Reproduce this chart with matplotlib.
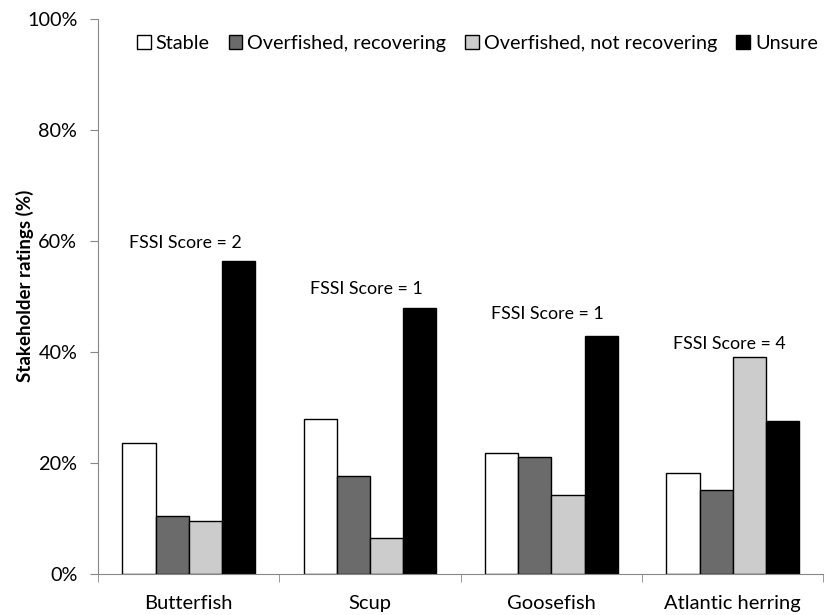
import numpy as np
import matplotlib.pyplot as plt

plt.rcParams['font.family'] = ['Lato', 'DejaVu Sans']

# data
species = ["Butterfish", "Scup", "Goosefish", "Atlantic herring"]
stable = [23.6, 27.9, 21.7, 18.2]
recovering = [10.5, 17.7, 21.1, 15.1]
not_recovering = [9.5, 6.5, 14.2, 39.1]
unsure = [56.4, 47.9, 42.9, 27.6]
fssi_labels = ["FSSI Score = 2", "FSSI Score = 1", "FSSI Score = 1", "FSSI Score = 4"]
fssi_y = [59.6, 51.4, 46.8, 41.4]

series = [
    ("Stable", stable, "white"),
    ("Overfished, recovering", recovering, "#6b6b6b"),
    ("Overfished, not recovering", not_recovering, "#cccccc"),
    ("Unsure", unsure, "black"),
]

fig = plt.figure(figsize=(8.25, 6.15), dpi=100)
ax = fig.add_axes([0.119, 0.067, 0.879, 0.902])

x = np.arange(len(species))
w = 0.183
for i, (name, vals, col) in enumerate(series):
    ax.bar(x + (i - 1.5) * w, vals, w, color=col, edgecolor="black",
           linewidth=1.0, label=name)

for xi, txt, yy in zip(x, fssi_labels, fssi_y):
    ax.text(xi - 0.02, yy, txt, ha="center", va="center", fontsize=12.8)

ax.set_xlim(-0.5, len(species) - 0.5)
ax.set_ylim(0, 100)
ax.set_yticks(range(0, 101, 20))
ax.set_yticklabels([f"{v}%" for v in range(0, 101, 20)], fontsize=14.3)
ax.set_xticks(x)
ax.set_xticklabels(species, fontsize=14.5)
ax.set_xticks(np.arange(-0.5, len(species)), minor=True)
ax.tick_params(axis="x", which="major", length=0, pad=15)
ax.tick_params(axis="x", which="minor", length=6, color="#888888", direction="out")
ax.tick_params(axis="y", length=6, color="#888888", direction="out", pad=9)

ax.set_ylabel("Stakeholder ratings (%)", fontsize=13.5, fontweight="bold")
ax.yaxis.set_label_coords(-0.088, 0.52)

for s in ["top", "right"]:
    ax.spines[s].set_visible(False)
for s in ["left", "bottom"]:
    ax.spines[s].set_color("#888888")

ax.legend(loc="upper center", bbox_to_anchor=(0.523, 0.997), ncol=4,
          frameon=False, fontsize=14.3, handlelength=0.7, handleheight=0.7,
          handletextpad=0.25, columnspacing=0.95, borderaxespad=0.3)

fig.savefig("out.png", dpi=100)
